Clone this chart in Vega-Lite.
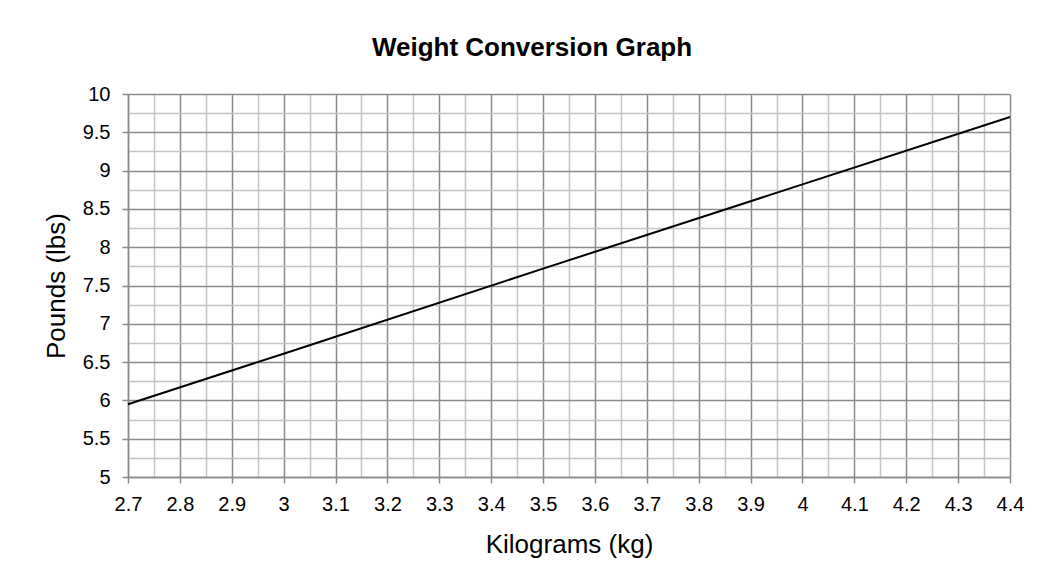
{
  "$schema": "https://vega.github.io/schema/vega-lite/v6.json",
  "width": 882,
  "height": 383,
  "autosize": {"type": "none"},
  "padding": {"left": 128, "top": 94, "right": 36, "bottom": 104},
  "background": "white",
  "title": {
    "text": "Weight Conversion Graph",
    "font": "Liberation Sans",
    "fontSize": 26,
    "fontWeight": "bold",
    "color": "#000000",
    "anchor": "middle",
    "dx": -37,
    "offset": 23
  },
  "data": {
    "values": [
      {"kg": 2.7, "lb": 5.95},
      {"kg": 3.0, "lb": 6.61},
      {"kg": 3.5, "lb": 7.72},
      {"kg": 4.0, "lb": 8.82},
      {"kg": 4.4, "lb": 9.70}
    ]
  },
  "mark": {"type": "line", "color": "#000000", "strokeWidth": 2},
  "encoding": {
    "x": {
      "field": "kg",
      "type": "quantitative",
      "scale": {"domain": [2.7, 4.4], "nice": false, "zero": false},
      "axis": {
        "title": "Kilograms (kg)",
        "values": [2.7, 2.75, 2.8, 2.85, 2.9, 2.95, 3.0, 3.05, 3.1, 3.15, 3.2, 3.25, 3.3, 3.35, 3.4, 3.45, 3.5, 3.55, 3.6, 3.65, 3.7, 3.75, 3.8, 3.85, 3.9, 3.95, 4.0, 4.05, 4.1, 4.15, 4.2, 4.25, 4.3, 4.35, 4.4],
        "labelExpr": "abs(datum.value*10 - round(datum.value*10)) > 0.01 ? '' : format(datum.value, '.2~f')",
        "grid": true,
        "gridColor": {"condition": {"test": "abs(datum.value*10 - round(datum.value*10)) > 0.01", "value": "#c4c4c4"}, "value": "#8a8a8a"},
        "gridWidth": 1.5,
        "tickColor": {"condition": {"test": "abs(datum.value*10 - round(datum.value*10)) > 0.01", "value": "transparent"}, "value": "#8a8a8a"},
        "tickSize": 6,
        "tickWidth": 1.5,
        "domainColor": "#8a8a8a",
        "domainWidth": 1.5,
        "labelFont": "Liberation Sans",
        "labelFontSize": 20,
        "labelColor": "#000000",
        "labelPadding": 11,
        "labelOverlap": false,
        "labelFlush": false,
        "titleFont": "Liberation Sans",
        "titleFontSize": 26,
        "titleFontWeight": "normal",
        "titleColor": "#000000",
        "titlePadding": 17
      }
    },
    "y": {
      "field": "lb",
      "type": "quantitative",
      "scale": {"domain": [5, 10], "nice": false, "zero": false},
      "axis": {
        "title": "Pounds (lbs)",
        "values": [5, 5.25, 5.5, 5.75, 6, 6.25, 6.5, 6.75, 7, 7.25, 7.5, 7.75, 8, 8.25, 8.5, 8.75, 9, 9.25, 9.5, 9.75, 10],
        "labelExpr": "abs(datum.value*2 - round(datum.value*2)) > 0.01 ? '' : format(datum.value, '.1~f')",
        "grid": true,
        "gridColor": {"condition": {"test": "abs(datum.value*2 - round(datum.value*2)) > 0.01", "value": "#c4c4c4"}, "value": "#8a8a8a"},
        "gridWidth": 1.5,
        "tickColor": {"condition": {"test": "abs(datum.value*2 - round(datum.value*2)) > 0.01", "value": "transparent"}, "value": "#8a8a8a"},
        "tickSize": 6,
        "tickWidth": 1.5,
        "domainColor": "#8a8a8a",
        "domainWidth": 1.5,
        "labelFont": "Liberation Sans",
        "labelFontSize": 20,
        "labelColor": "#000000",
        "labelPadding": 12,
        "labelOverlap": false,
        "labelFlush": false,
        "titleFont": "Liberation Sans",
        "titleFontSize": 26,
        "titleFontWeight": "normal",
        "titleColor": "#000000",
        "titlePadding": 13
      }
    }
  },
  "config": {"view": {"stroke": null}}
}
